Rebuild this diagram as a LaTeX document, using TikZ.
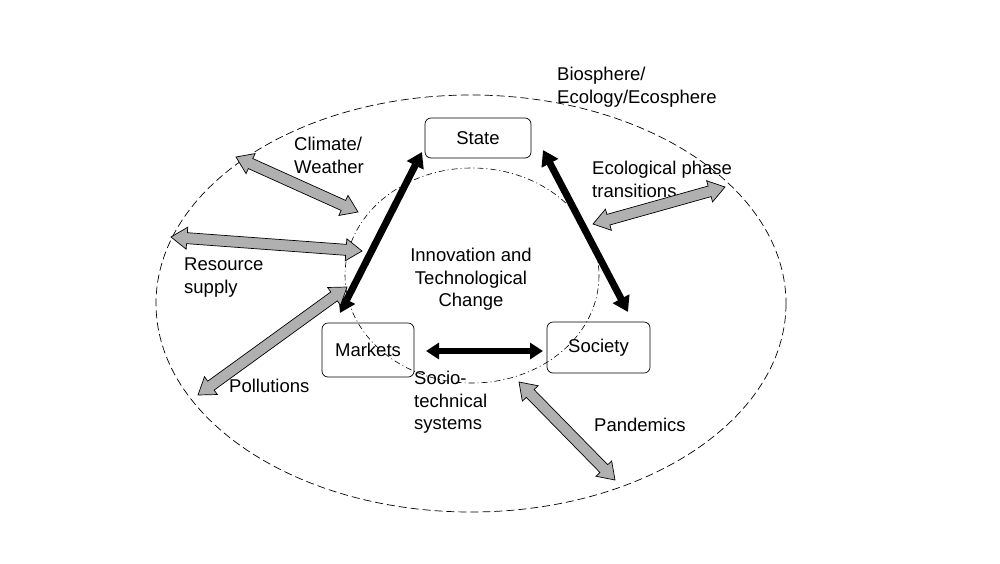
\documentclass[tikz,border=0pt]{standalone}
\usepackage{fontspec}
\setmainfont{Liberation Sans}
\usetikzlibrary{calc,arrows.meta}
\definecolor{arrowgray}{RGB}{176,176,176}
\newcommand{\hl}{16pt}
\newcommand{\hw}{11pt}
\newcommand{\sw}{5.5pt}
\newcommand{\blockarrow}[2]{%
  \coordinate (ta) at ($(#1)!\hl!(#2)$);
  \coordinate (tb) at ($(#2)!\hl!(#1)$);
  \draw[grayarrow] (#1)
    -- ($(ta)!\hw!90:(#2)$) -- ($(ta)!\sw!90:(#2)$)
    -- ($(tb)!\sw!-90:(#1)$) -- ($(tb)!\hw!-90:(#1)$)
    -- (#2)
    -- ($(tb)!\hw!90:(#1)$) -- ($(tb)!\sw!90:(#1)$)
    -- ($(ta)!\sw!-90:(#2)$) -- ($(ta)!\hw!-90:(#2)$)
    -- cycle;}
\begin{document}
\begin{tikzpicture}[x=1pt,y=-1pt,
  box/.style={draw,rounded corners=6pt,line width=0.7pt,inner sep=0pt,font=\fontsize{18.5}{22.5}\selectfont},
  lbl/.style={align=left,inner sep=0pt,font=\fontsize{18.5}{22.5}\selectfont},
  grayarrow/.style={draw=black,fill=arrowgray,line width=0.7pt,line join=miter},
  blackarrow/.style={line width=7pt,{Triangle[length=15pt,width=18pt]}-{Triangle[length=15pt,width=18pt]}},
  outer/.style={dash pattern=on 8pt off 4pt,line width=0.7pt},
  inner/.style={dash pattern=on 6pt off 3pt on 1pt off 3pt,line width=0.6pt}]
\useasboundingbox (0,0) rectangle (1000,563);
\fill[white] (0,0) rectangle (1000,563);
% ellipses
\draw[outer] (471,303.5) ellipse [x radius=315, y radius=208.5];
\draw[inner] (472,275.5) ellipse [x radius=127, y radius=107.5];
% boxes
\node[box,minimum width=106pt,minimum height=40pt] (state) at (478,138) {State};
\node[box,minimum width=92pt,minimum height=54pt] (markets) at (368,350) {Markets};
\node[box,minimum width=103pt,minimum height=51pt] (society) at (598.5,347.5) {Society};
% labels
\node[lbl,anchor=north west] (bio) at (557,67) {Biosphere/\\Ecology/Ecosphere};
\node[lbl,anchor=north west] (clim) at (294,137) {Climate/\\Weather};
\node[lbl,anchor=north west] (eco) at (592,161) {Ecological phase\\transitions};
\node[lbl,align=center,anchor=north] (inno) at (471,248) {Innovation and\\Technological\\Change};
\node[lbl,anchor=north west] (res) at (184,258) {Resource\\supply};
\node[lbl,anchor=north west] (poll) at (229,379) {Pollutions};
\node[lbl,anchor=north west] (socio) at (414,371) {Socio-\\technical\\systems};
\node[lbl,anchor=north west] (pand) at (594,418) {Pandemics};
% black arrow end points
\coordinate (msA) at (340,313);
\coordinate (msB) at (422,152);
\coordinate (ssA) at (543,150);
\coordinate (ssB) at (628,312);
\coordinate (mkA) at (426,351);
\coordinate (mkB) at (543,351);
\draw[blackarrow] (msA) -- (msB);
\draw[blackarrow] (ssA) -- (ssB);
\draw[blackarrow,line width=5.5pt,{Triangle[length=13pt,width=16pt]}-{Triangle[length=13pt,width=16pt]}] (mkA) -- (mkB);
% gray arrow end points
\coordinate (clA) at (236,157);
\coordinate (clB) at (358,212);
\coordinate (rsA) at (171,237);
\coordinate (rsB) at (362,251);
\coordinate (plA) at (198,395);
\coordinate (plB) at (347,287);
\coordinate (epA) at (593,224);
\coordinate (epB) at (725,187);
\coordinate (pdA) at (519,382);
\coordinate (pdB) at (615,480);
\blockarrow{clA}{clB}
\blockarrow{rsA}{rsB}
\blockarrow{plA}{plB}
\blockarrow{epA}{epB}
\blockarrow{pdA}{pdB}
\end{tikzpicture}
\end{document}
